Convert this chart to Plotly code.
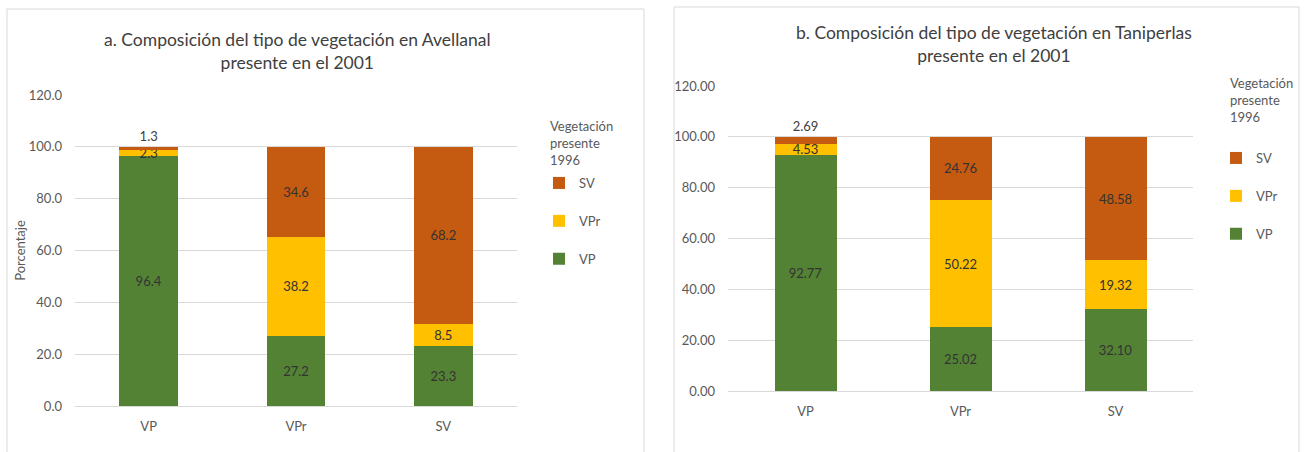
import plotly.graph_objects as go

categories = ["VP", "VPr", "SV"]
series_names = ["VP", "VPr", "SV"]

aval_vp = [96.4, 27.2, 23.3]
aval_vpr = [2.3, 38.2, 8.5]
aval_sv = [1.3, 34.6, 68.2]

tani_vp = [92.77, 25.02, 32.10]
tani_vpr = [4.53, 50.22, 19.32]
tani_sv = [2.69, 24.76, 48.58]

y_ticks = [0, 20, 40, 60, 80, 100, 120]

colors = {"VP": "#548235", "VPr": "#FFC000", "SV": "#C55A11"}
ranks = {"SV": 1, "VPr": 2, "VP": 3}
FONT = "Lato"
W, H = 1308, 452

fig = go.Figure()

def add_panel(vals, xa, ya, leg, fmt):
    for name, v in zip(series_names, vals):
        pos = "inside"
        if name == "SV":
            pos = ["outside", "inside", "inside"]
        fig.add_trace(go.Bar(
            x=categories, y=v, name=name, xaxis=xa, yaxis=ya,
            marker=dict(color=colors[name], line=dict(width=0)),
            texttemplate="%{y:" + fmt + "}", textposition=pos,
            insidetextanchor="middle", constraintext="none",
            textfont=dict(family=FONT, size=13, color="#333333"),
            outsidetextfont=dict(family=FONT, size=13, color="#404040"),
            cliponaxis=False,
            legend=leg, legendgroup=leg + name, legendrank=ranks[name],
        ))

add_panel([aval_vp, aval_vpr, aval_sv], "x", "y", "legend", ".1f")
add_panel([tani_vp, tani_vpr, tani_sv], "x2", "y2", "legend2", ".2f")

axis_font = dict(family=FONT, size=13, color="#595959")
grid = "#D9D9D9"

def px_x(p):
    return p / W

def px_y(p):
    return 1 - p / H

common_x = dict(showgrid=False, zeroline=False, showline=False, tickfont=axis_font,
                ticks="", ticklabelstandoff=11, automargin=False)
common_y = dict(range=[0, 120], tickvals=y_ticks, showgrid=True, gridcolor=grid,
                gridwidth=1, zeroline=True, zerolinecolor=grid, zerolinewidth=1,
                showline=False, tickfont=axis_font, ticks="", ticklabelstandoff=12,
                automargin=False)

leg_common = dict(xanchor="left", yanchor="top", traceorder="grouped",
                  tracegroupgap=18, font=dict(family=FONT, size=13, color="#595959"),
                  itemwidth=30, bgcolor="rgba(0,0,0,0)")

legend_title = "Vegetación<br>presente<br>1996"

fig.update_layout(
    width=W, height=H, barmode="stack", bargap=0.6,
    margin=dict(l=0, r=0, t=0, b=0, autoexpand=False),
    paper_bgcolor="white", plot_bgcolor="white",
    font=dict(family=FONT, color="#595959"),
    showlegend=True,
    xaxis=dict(domain=[px_x(75), px_x(517)], anchor="y", **common_x),
    yaxis=dict(domain=[px_y(406), px_y(95)], anchor="x", tickformat=".1f",
               title=dict(text="Porcentaje", font=dict(family=FONT, size=13, color="#595959"), standoff=0),
               **common_y),
    xaxis2=dict(domain=[px_x(728), px_x(1193)], anchor="y2", **common_x),
    yaxis2=dict(domain=[px_y(391), px_y(86)], anchor="x2", tickformat=".2f", **common_y),
    legend=dict(x=px_x(539), y=px_y(168), **leg_common),
    legend2=dict(x=px_x(1216), y=px_y(143), **leg_common),
    annotations=[
        dict(text="a. Composición del tipo de vegetación en Avellanal<br>presente en el 2001",
             x=px_x(297), y=px_y(51), xref="paper", yref="paper", showarrow=False,
             xanchor="center", yanchor="middle",
             font=dict(family=FONT, size=17.5, color="#404040")),
        dict(text="b. Composición del tipo de vegetación en Taniperlas<br>presente en el 2001",
             x=px_x(994), y=px_y(44), xref="paper", yref="paper", showarrow=False,
             xanchor="center", yanchor="middle",
             font=dict(family=FONT, size=17.5, color="#404040")),
        dict(text=legend_title, x=px_x(548), y=px_y(143), xref="paper", yref="paper",
             showarrow=False, xanchor="left", yanchor="middle", align="left",
             font=dict(family=FONT, size=13, color="#595959")),
        dict(text=legend_title, x=px_x(1228), y=px_y(100), xref="paper", yref="paper",
             showarrow=False, xanchor="left", yanchor="middle", align="left",
             font=dict(family=FONT, size=13, color="#595959")),
    ],
    shapes=[
        dict(type="rect", xref="paper", yref="paper", x0=px_x(7), x1=px_x(644),
             y0=-0.1, y1=px_y(9), line=dict(color="#D9D9D9", width=1), fillcolor="rgba(0,0,0,0)",
             layer="below"),
        dict(type="rect", xref="paper", yref="paper", x0=px_x(674), x1=px_x(1299),
             y0=-0.1, y1=px_y(7), line=dict(color="#D9D9D9", width=1), fillcolor="rgba(0,0,0,0)",
             layer="below"),
    ],
)

fig.write_html("out.html", config={"displayModeBar": False},
               post_script="document.body.style.margin='0px';document.body.style.overflow='hidden';")
